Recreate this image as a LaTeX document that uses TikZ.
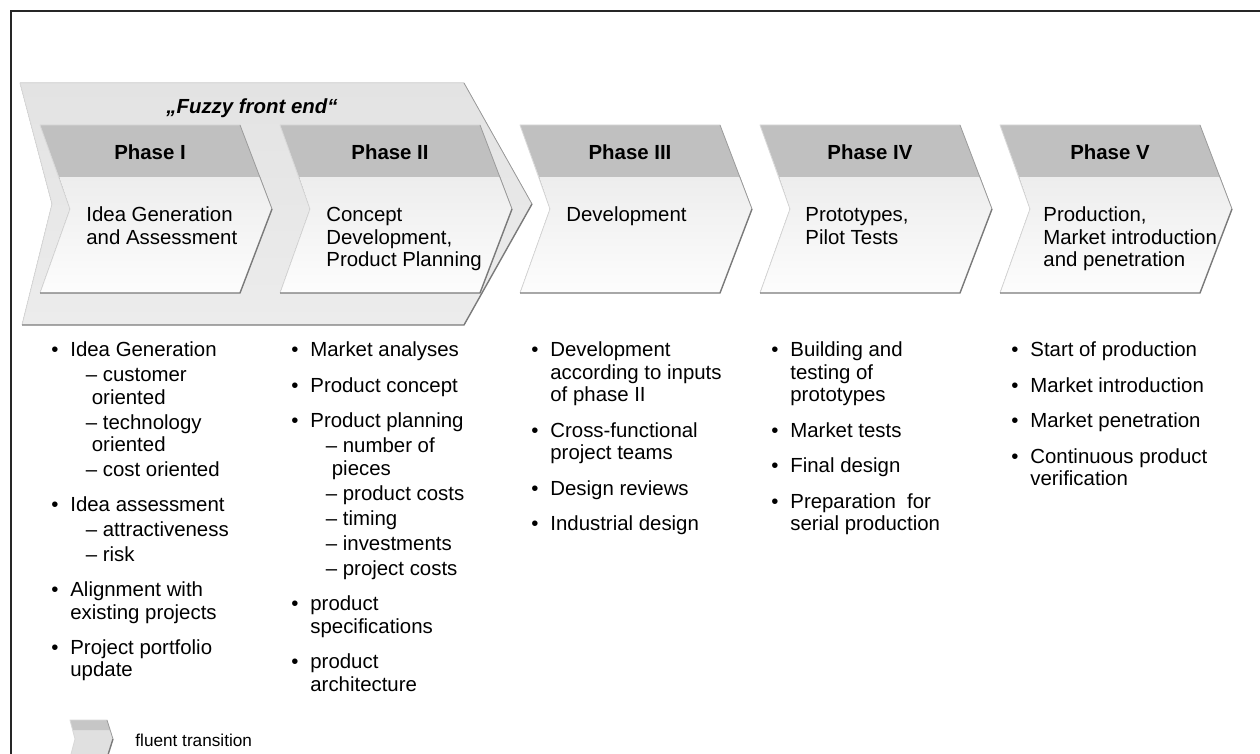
\documentclass[tikz,border=0pt]{standalone}
\usepackage{fontspec}
\setmainfont{Liberation Sans}
\usepackage{array}
\definecolor{bandgray}{HTML}{C0C0C0}
\definecolor{bodytop}{HTML}{EDEDED}
\definecolor{bodybot}{HTML}{FDFDFD}
\definecolor{fuzzytop}{HTML}{E3E3E3}
\definecolor{fuzzybot}{HTML}{ECECEC}
\definecolor{edgedark}{HTML}{7A7A7A}
\definecolor{edgemid}{HTML}{9C9C9C}
\definecolor{edgelight}{HTML}{D8D8D8}
\newcommand{\subdash}{\hspace*{7.75pt}–~}
\newcommand{\subcont}{\hspace*{10.75pt}}
\newcommand{\chevlines}[1]{\begin{tabular}[t]{@{}l@{}}#1\end{tabular}}
\newcommand{\bulletlist}[1]{\begin{tabular}[t]{@{}p{9.5pt}@{}l@{}}#1\end{tabular}}
\begin{document}
\begin{tikzpicture}[x=0.5pt,y=0.5pt]
\tikzstyle{every node}+=[inner sep=0pt]
\tikzstyle{bandfill}=[fill=bandgray]
\tikzstyle{bodyfill}=[top color=bodytop,bottom color=bodybot]
\tikzstyle{fuzzyfill}=[top color=fuzzytop,bottom color=fuzzybot]
\tikzstyle{darkedge}=[draw=edgedark,line width=0.7pt,line join=round]
\tikzstyle{midedge}=[draw=edgemid,line width=0.4pt]
\tikzstyle{lightedge}=[draw=edgelight,line width=0.4pt,line join=round]
\tikzstyle{headtext}=[font=\fontsize{10.2}{11.25}\selectfont\bfseries]
\tikzstyle{chevtext}=[anchor=base west,font=\fontsize{10.2}{11.25}\selectfont]
\tikzstyle{listtext}=[anchor=base west,font=\fontsize{10.2}{11.25}\selectfont]
\useasboundingbox (0,0) rectangle (1260,-754);
\fill [white] (0,0) rectangle (1260,-754);
\draw [black!85,line width=0.8pt] (1260,-11) -- (11,-11) -- (11,-754);
\fill [fuzzyfill] (20,-83) -- (464,-83) -- (532,-204) -- (464,-325) -- (22,-325) -- (52,-204) -- cycle;
\draw [lightedge] (464,-83) -- (20,-83) -- (52,-204) -- (22,-325);
\draw [midedge] (464,-83) -- (532,-204);
\draw [darkedge] (532,-204) -- (464,-325) -- (22,-325);
\node [anchor=base west,font=\fontsize{10.2}{11.25}\selectfont\bfseries\itshape] (fuzzy) at (166,-114) {„Fuzzy front end“};
\fill [bodyfill] (59,-177) -- (260,-177) -- (272,-209) -- (240,-293) -- (40,-293) -- (70,-209) -- cycle;
\fill [bandfill] (40,-125) -- (240,-125) -- (260,-177) -- (59,-177) -- cycle;
\draw [lightedge] (240,-125) -- (40,-125) -- (70,-209) -- (40,-293);
\draw [midedge] (240,-125) -- (272,-209);
\draw [darkedge] (272,-209) -- (240,-293) -- (40,-293);
\fill [bodyfill] (299,-177) -- (500,-177) -- (512,-209) -- (480,-293) -- (280,-293) -- (310,-209) -- cycle;
\fill [bandfill] (280,-125) -- (480,-125) -- (500,-177) -- (299,-177) -- cycle;
\draw [lightedge] (480,-125) -- (280,-125) -- (310,-209) -- (280,-293);
\draw [midedge] (480,-125) -- (512,-209);
\draw [darkedge] (512,-209) -- (480,-293) -- (280,-293);
\fill [bodyfill] (539,-177) -- (740,-177) -- (752,-209) -- (720,-293) -- (520,-293) -- (550,-209) -- cycle;
\fill [bandfill] (520,-125) -- (720,-125) -- (740,-177) -- (539,-177) -- cycle;
\draw [lightedge] (720,-125) -- (520,-125) -- (550,-209) -- (520,-293);
\draw [midedge] (720,-125) -- (752,-209);
\draw [darkedge] (752,-209) -- (720,-293) -- (520,-293);
\fill [bodyfill] (779,-177) -- (980,-177) -- (992,-209) -- (960,-293) -- (760,-293) -- (790,-209) -- cycle;
\fill [bandfill] (760,-125) -- (960,-125) -- (980,-177) -- (779,-177) -- cycle;
\draw [lightedge] (960,-125) -- (760,-125) -- (790,-209) -- (760,-293);
\draw [midedge] (960,-125) -- (992,-209);
\draw [darkedge] (992,-209) -- (960,-293) -- (760,-293);
\fill [bodyfill] (1019,-177) -- (1220,-177) -- (1232,-209) -- (1200,-293) -- (1000,-293) -- (1030,-209) -- cycle;
\fill [bandfill] (1000,-125) -- (1200,-125) -- (1220,-177) -- (1019,-177) -- cycle;
\draw [lightedge] (1200,-125) -- (1000,-125) -- (1030,-209) -- (1000,-293);
\draw [midedge] (1200,-125) -- (1232,-209);
\draw [darkedge] (1232,-209) -- (1200,-293) -- (1000,-293);
\node [headtext] (head1) at (150,-152) {Phase I};
\node [headtext] (head2) at (390,-152) {Phase II};
\node [headtext] (head3) at (630,-152) {Phase III};
\node [headtext] (head4) at (870,-152) {Phase IV};
\node [headtext] (head5) at (1110,-152) {Phase V};
\node [chevtext] (title1) at (86,-222) {\chevlines{Idea Generation\\and Assessment}};
\node [chevtext] (title2) at (326,-222) {\chevlines{Concept\\Development,\\Product Planning}};
\node [chevtext] (title3) at (566,-222) {\chevlines{Development}};
\node [chevtext] (title4) at (805,-222) {\chevlines{Prototypes,\\Pilot Tests}};
\node [chevtext] (title5) at (1043,-222) {\chevlines{Production,\\Market introduction\\and penetration}};
\node [listtext] (list1) at (51,-357) {\bulletlist{%
\textbullet & Idea Generation\\[1.25pt]
 & \subdash customer\\
 & \subcont oriented\\[1.25pt]
 & \subdash technology\\
 & \subcont oriented\\[1.25pt]
 & \subdash cost oriented\\[6.25pt]
\textbullet & Idea assessment\\[1.25pt]
 & \subdash attractiveness\\[1.25pt]
 & \subdash risk\\[6.25pt]
\textbullet & Alignment with\\
 & existing projects\\[6.25pt]
\textbullet & Project portfolio\\
 & update}};
\node [listtext] (list2) at (291,-357) {\bulletlist{%
\textbullet & Market analyses\\[6.5pt]
\textbullet & Product concept\\[6.5pt]
\textbullet & Product planning\\[1.25pt]
 & \subdash number of\\
 & \subcont pieces\\[1.25pt]
 & \subdash product costs\\[1.25pt]
 & \subdash timing\\[1.25pt]
 & \subdash investments\\[1.25pt]
 & \subdash project costs\\[6.5pt]
\textbullet & product\\
 & specifications\\[6.5pt]
\textbullet & product\\
 & architecture}};
\node [listtext] (list3) at (531,-357) {\bulletlist{%
\textbullet & Development\\
 & according to inputs\\
 & of phase II\\[6.5pt]
\textbullet & Cross-functional\\
 & project teams\\[6.5pt]
\textbullet & Design reviews\\[6.5pt]
\textbullet & Industrial design}};
\node [listtext] (list4) at (771,-357) {\bulletlist{%
\textbullet & Building and\\
 & testing of\\
 & prototypes\\[6.5pt]
\textbullet & Market tests\\[6.5pt]
\textbullet & Final design\\[6.5pt]
\textbullet & Preparation\ \ for\\
 & serial production}};
\node [listtext] (list5) at (1011,-357) {\bulletlist{%
\textbullet & Start of production\\[6.5pt]
\textbullet & Market introduction\\[6.5pt]
\textbullet & Market penetration\\[6.5pt]
\textbullet & Continuous product\\
 & verification}};
\fill [fill=edgelight!80] (72.6,-730) -- (110.2,-730) -- (113,-739) -- (107,-758) -- (70,-758) -- (75,-739) -- cycle;
\fill [fill=bandgray!90] (70,-720) -- (107,-720) -- (110.2,-730) -- (72.6,-730) -- cycle;
\draw [lightedge] (107,-720) -- (70,-720) -- (75,-739) -- (70,-758);
\draw [midedge] (107,-720) -- (113,-739);
\draw [darkedge] (113,-739) -- (107,-758);
\node [anchor=base west,font=\fontsize{8.6}{10}\selectfont] (legend) at (135,-746) {fluent transition};
\end{tikzpicture}
\end{document}
